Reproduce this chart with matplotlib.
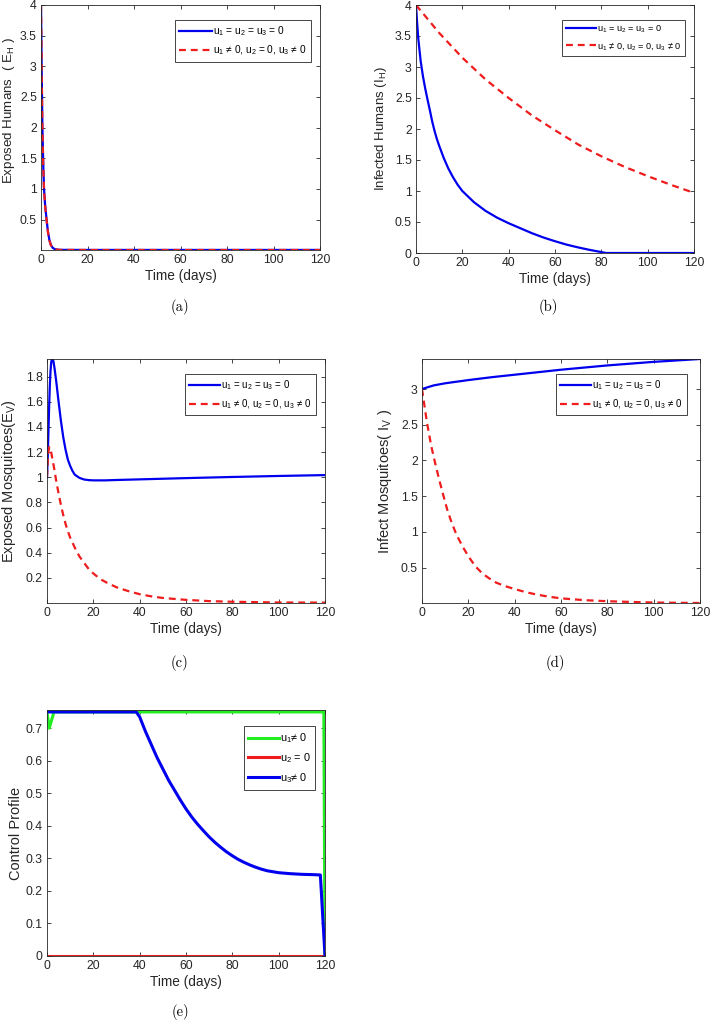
#!/usr/bin/env python3
# -*- coding: utf-8 -*-
"""
Five panels of the model with and without control:
exposed/infected humans, exposed/infected mosquitoes and the control profile.
"""
import numpy as np
import matplotlib
matplotlib.use('Agg')
import matplotlib.pyplot as plt

# ---------------- data ----------------
# (a) exposed humans
tEH = [0, 0.3, 0.6, 1.0, 1.3, 1.8, 2.4, 3.0, 3.6, 4.2, 5.0, 6.0, 8.0, 10, 20, 40, 60, 80, 100, 120]
EH_none = [4.0, 2.9, 2.0, 1.35, 1.0, 0.72, 0.5, 0.3, 0.17, 0.09, 0.04, 0.015, 0.006, 0.005,
           0.004, 0.004, 0.004, 0.004, 0.004, 0.004]
EH_ctrl = [4.0, 2.88, 1.98, 1.33, 0.99, 0.71, 0.49, 0.29, 0.16, 0.085, 0.038, 0.014, 0.005,
           0.004, 0.003, 0.003, 0.003, 0.003, 0.003, 0.003]

# (b) infected humans
tIH_none = [0, 0.5, 1, 2, 3, 4, 5, 6, 7, 8, 9, 10, 12, 14, 16, 18, 20, 25, 30, 35, 40, 45, 50,
            55, 60, 65, 70, 75, 80, 82, 90, 100, 110, 120]
IH_none = [4.0, 3.7, 3.45, 3.1, 2.85, 2.65, 2.47, 2.3, 2.12, 1.97, 1.84, 1.73, 1.53, 1.36,
           1.22, 1.1, 1.0, 0.82, 0.68, 0.57, 0.48, 0.4, 0.32, 0.25, 0.19, 0.135, 0.09, 0.05,
           0.015, 0.0, 0.0, 0.0, 0.0, 0.0]
tIH_ctrl = [0, 10, 20, 30, 40, 50, 60, 70, 80, 90, 100, 110, 120]
IH_ctrl = [4.0, 3.55, 3.15, 2.8, 2.5, 2.22, 1.98, 1.75, 1.56, 1.39, 1.24, 1.1, 0.97]

# (c) exposed mosquitoes
tEV_none = [0, 0.3, 0.6, 0.9, 1.2, 1.5, 1.8, 2.1, 2.4, 2.8, 3.3, 4, 5, 6, 7, 8, 9, 10, 11, 12,
            14, 16, 18, 20, 25, 30, 40, 50, 60, 80, 100, 120]
EV_none = [1.0, 1.15, 1.35, 1.55, 1.72, 1.84, 1.91, 1.94, 1.94, 1.92, 1.86, 1.76, 1.6, 1.45,
           1.32, 1.22, 1.14, 1.09, 1.05, 1.02, 0.995, 0.982, 0.977, 0.975, 0.975, 0.978, 0.983,
           0.988, 0.993, 1.002, 1.01, 1.017]
tEV_ctrl = [0, 0.3, 0.6, 1, 1.4, 2, 3, 4, 5, 6, 7, 8, 9, 10, 12, 14, 16, 18, 20, 23, 26, 30,
            35, 40, 45, 50, 60, 70, 80, 100, 120]
EV_ctrl = [1.0, 1.12, 1.2, 1.24, 1.23, 1.18, 1.08, 0.97, 0.87, 0.78, 0.7, 0.63, 0.57, 0.52,
           0.44, 0.37, 0.32, 0.27, 0.235, 0.19, 0.16, 0.125, 0.095, 0.07, 0.053, 0.04, 0.025,
           0.015, 0.01, 0.004, 0.003]

# (d) infected mosquitoes
tIV_none = [0, 2, 5, 10, 20, 30, 40, 50, 60, 70, 80, 90, 100, 110, 120]
IV_none = [3.0, 3.02, 3.05, 3.08, 3.125, 3.165, 3.2, 3.235, 3.27, 3.3, 3.33, 3.355, 3.38,
           3.4, 3.42]
tIV_ctrl = [0, 1, 2.2, 4, 5.7, 7.5, 9.3, 11, 12.8, 14.4, 16, 18, 20, 23, 26, 29, 32, 36, 40,
            45, 50, 55, 60, 70, 80, 90, 100, 110, 120]
IV_ctrl = [3.0, 2.78, 2.52, 2.2, 1.96, 1.72, 1.5, 1.3, 1.13, 1.0, 0.89, 0.77, 0.66, 0.52,
           0.42, 0.35, 0.29, 0.24, 0.2, 0.155, 0.12, 0.092, 0.07, 0.045, 0.03, 0.02, 0.012,
           0.008, 0.005]

# (e) control profile
tu1 = [0, 1.0, 3.0, 119.5, 120]
u1 = [0.75, 0.70, 0.75, 0.75, 0.0]
tu2 = [0, 120]
u2 = [0.0, 0.0]
tu3 = [0, 38.5, 40, 42.5, 45, 47.5, 50, 52.5, 55, 57.5, 60, 62.5, 65, 67.5, 70, 72.5, 75,
       77.5, 80, 82.5, 85, 87.5, 90, 92.5, 95, 97.5, 100, 105, 110, 115, 118, 120]
u3 = [0.75, 0.75, 0.735, 0.69, 0.65, 0.61, 0.575, 0.54, 0.51, 0.48, 0.452, 0.427, 0.405,
      0.385, 0.366, 0.349, 0.334, 0.32, 0.308, 0.297, 0.288, 0.28, 0.273, 0.267, 0.262,
      0.259, 0.256, 0.253, 0.251, 0.25, 0.249, 0.0]

lab_none = 'u$_1$ = u$_2$ = u$_3$ = 0'
lab_ctrl = 'u$_1$ \u2260 0, u$_2$ = 0, u$_3$ \u2260 0'

# ---------------- style ----------------
plt.rcParams['font.family'] = ['Liberation Sans', 'DejaVu Sans']
plt.rcParams['mathtext.default'] = 'regular'
dark = '#262626'
blue = '#0000ee'
red = '#ee1c1c'
green = '#22ee22'

W, H = 711, 1024
fig = plt.figure(figsize=(W / 100, H / 100), dpi=100)


def make_ax(left, right, top, bottom):
    # pixel box -> figure fraction
    ax = fig.add_axes([left / W, (H - bottom) / H, (right - left) / W, (bottom - top) / H])
    ax.tick_params(direction='in', top=True, right=True, length=3, width=0.6,
                   labelsize=8.8, colors=dark, pad=3)
    for s in ax.spines.values():
        s.set_color(dark)
        s.set_linewidth(0.6)
    ax.set_xlim(0, 120)
    ax.set_xticks(np.arange(0, 121, 20))
    ax.set_xlabel('Time (days)', fontsize=9.8, color=dark, labelpad=2)
    return ax


def ylab(ax, text, fs, x, y=0.5):
    # x is the label's right edge in axes units
    ax.set_ylabel(text, fontsize=fs, color=dark)
    ax.yaxis.set_label_coords(x, y)


def caption(x, y, s):
    fig.text(x / W, 1 - y / H, s, ha='center', va='center', fontsize=10.5, family='cmr10')


def legend(ax, fs=7.0, anchor=None, hl=3.2):
    leg = ax.legend(loc='upper right', bbox_to_anchor=anchor, fontsize=fs, handlelength=hl,
                    handletextpad=0.1, borderpad=0.45, labelspacing=0.55, fancybox=False,
                    framealpha=1, edgecolor=dark)
    leg.get_frame().set_linewidth(0.6)
    return leg


dash = (3.1, 2.2)

# (a)
ax = make_ax(41, 320, 5, 250)
ax.plot(tEH, EH_none, color=blue, lw=1.6, label=lab_none)
ax.plot(tEH, EH_ctrl, color=red, lw=1.6, dashes=dash, label=lab_ctrl)
ax.set_ylim(0.003, 4)
ax.set_yticks(np.arange(0.5, 4.01, 0.5))
ax.set_yticklabels(['0.5', '1', '1.5', '2', '2.5', '3', '3.5', '4'])
ylab(ax, 'Exposed Humans  ( E$_H$ )', 9.6, -0.085, 0.57)
legend(ax, fs=7.3, anchor=(0.985, 0.96))
caption(180, 307, '(a)')

# (b)
ax = make_ax(416, 694, 5, 253)
ax.plot(tIH_none, IH_none, color=blue, lw=1.6, label=lab_none)
ax.plot(tIH_ctrl, IH_ctrl, color=red, lw=1.6, dashes=dash, label=lab_ctrl)
ax.set_ylim(0, 4)
ax.set_yticks(np.arange(0, 4.01, 0.5))
ax.set_yticklabels(['0', '0.5', '1', '1.5', '2', '2.5', '3', '3.5', '4'])
ylab(ax, 'Infected Humans (I$_H$)', 9.5, -0.097)
legend(ax, fs=6.6, anchor=(0.985, 0.96))
caption(548, 307, '(b)')

# (c)
ax = make_ax(47, 325, 359, 603)
ax.plot(tEV_none, EV_none, color=blue, lw=1.6, label=lab_none)
ax.plot(tEV_ctrl, EV_ctrl, color=red, lw=1.6, dashes=dash, label=lab_ctrl)
ax.set_ylim(0.0, 1.94)
ax.set_yticks(np.arange(0.2, 1.81, 0.2))
ax.set_yticklabels(['0.2', '0.4', '0.6', '0.8', '1', '1.2', '1.4', '1.6', '1.8'])
ylab(ax, 'Exposed Mosquitoes(E$_V$)', 10.5, -0.104)
legend(ax, fs=7.0, anchor=(0.985, 0.96))
caption(180, 663, '(c)')

# (d)
ax = make_ax(422, 700, 359, 603)
ax.plot(tIV_none, IV_none, color=blue, lw=1.6, label=lab_none)
ax.plot(tIV_ctrl, IV_ctrl, color=red, lw=1.6, dashes=dash, label=lab_ctrl)
ax.set_ylim(0.005, 3.42)
ax.set_yticks(np.arange(0.5, 3.01, 0.5))
ax.set_yticklabels(['0.5', '1', '1.5', '2', '2.5', '3'])
ylab(ax, 'Infect Mosquitoes( I$_V$ )', 10.5, -0.1)
legend(ax, fs=7.0, anchor=(0.97, 0.96))
caption(555, 663, '(d)')

# (e)
ax = make_ax(47, 325, 710, 956)
ax.plot(tu1, u1, color=green, lw=2.2, label='u$_1$\u2260 0')
ax.plot(tu2, u2, color=red, lw=2.2, label='u$_2$ = 0')
ax.plot(tu3, u3, color=blue, lw=2.2, label='u$_3$\u2260 0')
ax.set_ylim(0, 0.756)
ax.set_yticks(np.arange(0, 0.71, 0.1))
ax.set_yticklabels(['0', '0.1', '0.2', '0.3', '0.4', '0.5', '0.6', '0.7'])
ylab(ax, 'Control Profile', 10.5, -0.086)
legend(ax, fs=7.8, anchor=(0.985, 0.955), hl=2.8)
caption(180, 1012, '(e)')

fig.savefig('out.png', dpi=100)
